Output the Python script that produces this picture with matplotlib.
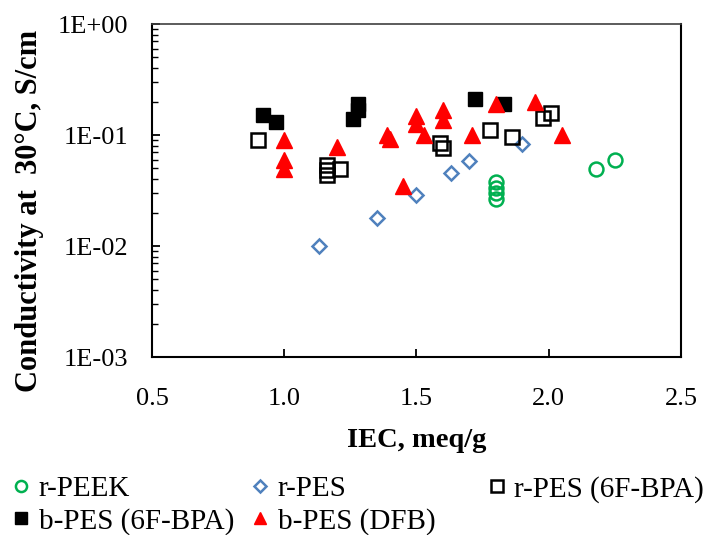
import matplotlib
matplotlib.use("Agg")
import matplotlib.pyplot as plt

plt.rcParams["font.family"] = ["Liberation Serif", "DejaVu Serif"]

# r-PEEK
peek_iec = [1.80, 1.80, 1.80, 1.80, 2.18, 2.25]
peek_cond = [0.038, 0.033, 0.030, 0.0265, 0.049, 0.060]

# r-PES
pes_iec = [1.13, 1.35, 1.50, 1.63, 1.70, 1.90]
pes_cond = [0.0100, 0.018, 0.0288, 0.0457, 0.0586, 0.083]

# r-PES (6F-BPA)
rbpa_iec = [0.90, 1.16, 1.16, 1.16, 1.21, 1.59, 1.60, 1.78, 1.86, 1.98, 2.01]
rbpa_cond = [0.090, 0.054, 0.048, 0.044, 0.049, 0.084, 0.076, 0.112, 0.095, 0.141, 0.157]

# b-PES (6F-BPA)
bbpa_iec = [0.92, 0.97, 1.26, 1.28, 1.28, 1.72, 1.83]
bbpa_cond = [0.151, 0.130, 0.139, 0.169, 0.191, 0.211, 0.190]

# b-PES (DFB)
dfb_iec = [1.00, 1.00, 1.00, 1.20, 1.39, 1.40, 1.45, 1.50, 1.50, 1.53, 1.60, 1.60, 1.71, 1.80, 1.95, 2.05]
dfb_cond = [0.091, 0.060, 0.049, 0.0785, 0.100, 0.0915, 0.0347, 0.149, 0.125, 0.100, 0.168, 0.136, 0.100, 0.190, 0.200, 0.100]

fig = plt.figure(figsize=(7.08, 5.35), dpi=100)
ax = fig.add_axes([0.2147, 0.3327, 0.747, 0.6224])

h1, = ax.plot(peek_iec, peek_cond, "o", ls="none", ms=10, mfc="none", mec="#00B050", mew=1.8, label="r-PEEK")
h2, = ax.plot(pes_iec, pes_cond, "D", ls="none", ms=7.5, mfc="none", mec="#4F81BD", mew=1.8, label="r-PES")
h3, = ax.plot(rbpa_iec, rbpa_cond, "s", ls="none", ms=10, mfc="none", mec="black", mew=1.8, label="r-PES (6F-BPA)")
h4, = ax.plot(bbpa_iec, bbpa_cond, "s", ls="none", ms=10, mfc="black", mec="black", label="b-PES (6F-BPA)")
h5, = ax.plot(dfb_iec, dfb_cond, "^", ls="none", ms=11, mfc="red", mec="red", label="b-PES (DFB)")

ax.set_yscale("log")
ax.set_xlim(0.5, 2.5)
ax.set_ylim(1e-3, 1)
ax.set_xticks([0.5, 1.0, 1.5, 2.0, 2.5])
ax.set_xticklabels(["0.5", "1.0", "1.5", "2.0", "2.5"])
ax.set_yticks([1e-3, 1e-2, 1e-1, 1])
ax.set_yticklabels(["1E-03", "1E-02", "1E-01", "1E+00"])

ax.tick_params(axis="x", which="major", direction="in", length=6, width=1.3, labelsize=19, pad=22, top=False)
ax.tick_params(axis="x", which="minor", bottom=False, top=False)
ax.tick_params(axis="y", which="major", direction="in", length=6, width=1.3, labelsize=19, pad=17, right=False)
ax.tick_params(axis="y", which="minor", direction="in", length=4, width=1.0, right=False)

for s in ax.spines.values():
    s.set_linewidth(1.5)
ax.spines["top"].set_color("#404040")
ax.spines["top"].set_linewidth(1.2)

ax.set_xlabel("IEC, meq/g", fontsize=20.5, fontweight="bold", labelpad=13)
ax.set_ylabel("Conductivity at  30°C, S/cm", fontsize=22, fontweight="bold")
ax.yaxis.set_label_coords(-0.205, 0.438)

leg_kw = dict(loc="lower left", frameon=False, fontsize=21, markerscale=0.8,
              handlelength=0.6, handletextpad=0.3, labelspacing=0.2, borderaxespad=0)
fig.legend(handles=[h1, h4], bbox_to_anchor=(0.001, -0.021), **leg_kw)
fig.legend(handles=[h2, h5], bbox_to_anchor=(0.339, -0.021), **leg_kw)
fig.legend(handles=[h3], bbox_to_anchor=(0.673, 0.038), **leg_kw)

fig.savefig("out.png", dpi=100)
